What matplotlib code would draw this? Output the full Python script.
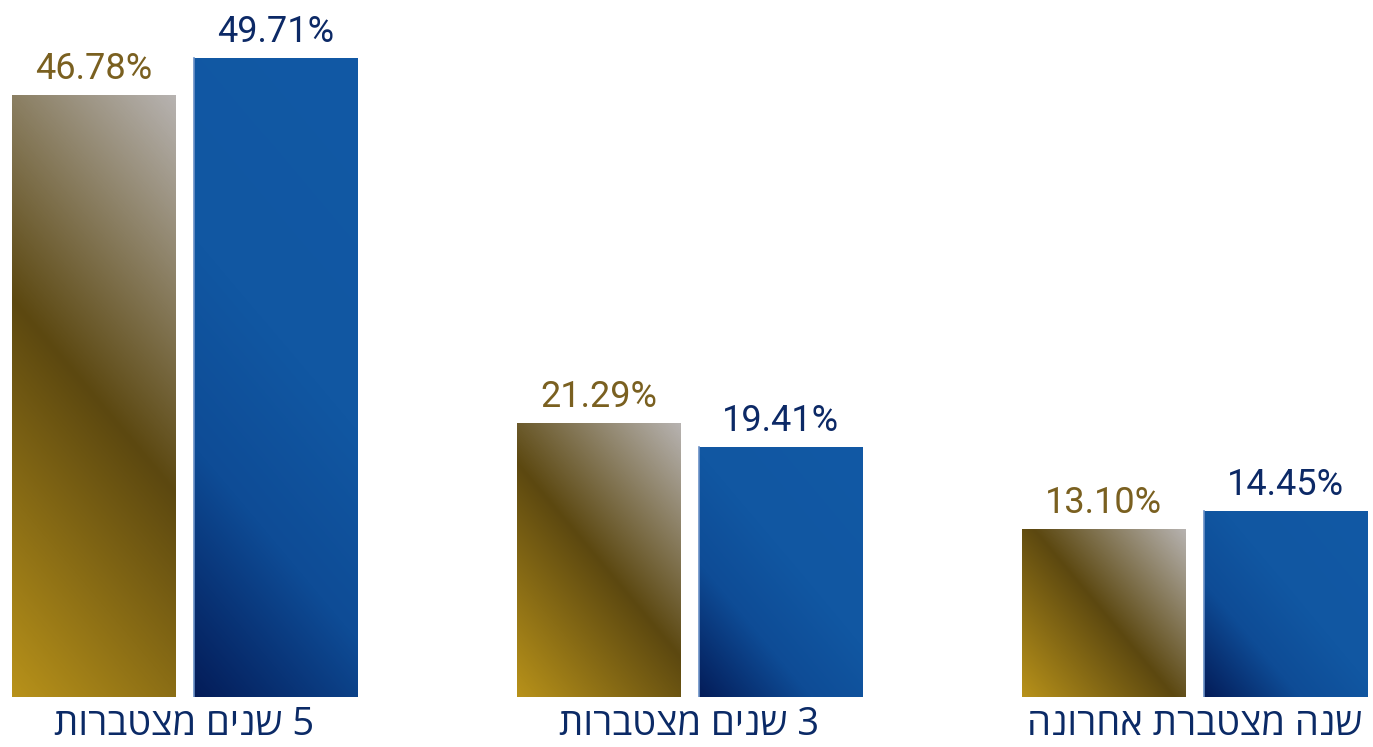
import numpy as np
import matplotlib
matplotlib.use('Agg')
import matplotlib.pyplot as plt
from matplotlib.colors import LinearSegmentedColormap

# Data
categories = ['5 שנים מצטברות', '3 שנים מצטברות', 'שנה מצטברת אחרונה']
gold_values = [46.78, 21.29, 13.10]
blue_values = [49.71, 19.41, 14.45]

gold_cmap = LinearSegmentedColormap.from_list(
    'gold', [(0, '#b8921a'), (0.5, '#5c4810'), (1, '#b7b3b1')])
blue_cmap = LinearSegmentedColormap.from_list(
    'blue', [(0, '#041c58'), (0.3, '#0e4c96'), (0.55, '#1157a2'), (1, '#1259a5')])


def gradient_fill(ax, bar, cmap, angle=50):
    # css-like linear gradient, computed in pixel space of the bar
    x0, y0 = bar.get_x(), bar.get_y()
    x1, y1 = x0 + bar.get_width(), y0 + bar.get_height()
    (px0, py0), (px1, py1) = ax.transData.transform([(x0, y0), (x1, y1)])
    w, h = max(int(px1 - px0), 2), max(int(py1 - py0), 2)
    xx, yy = np.meshgrid(np.arange(w) + 0.5, np.arange(h) + 0.5)
    a = np.radians(angle)
    L = w * abs(np.sin(a)) + h * abs(np.cos(a))
    t = ((xx - w / 2) * np.sin(a) + (yy - h / 2) * np.cos(a)) / L + 0.5
    im = ax.imshow(t, cmap=cmap, vmin=0, vmax=1, origin='lower', aspect='auto',
                   extent=(x0, x1, y0, y1), interpolation='bilinear', zorder=2)
    im.set_clip_path(bar)
    bar.set_visible(False)


fig = plt.figure(figsize=(13.73, 7.47), dpi=100)
ax = fig.add_axes([0, 50 / 747, 1, 697 / 747])
ax.set_xlim(-0.365, 2.353)
ax.set_ylim(0, 54.2)
ax.axis('off')

x = np.arange(len(categories))
width = 0.323
offset = 0.180

gold_bars = ax.bar(x - offset, gold_values, width, color='none', linewidth=0)
blue_bars = ax.bar(x + offset, blue_values, width, color='none', linewidth=0)

for bar in gold_bars:
    gradient_fill(ax, bar, gold_cmap)
for bar in blue_bars:
    gradient_fill(ax, bar, blue_cmap)
    ax.plot([bar.get_x(), bar.get_x()], [0, bar.get_height()],
            color='#6a90c6', linewidth=1.2, zorder=3)

label_font = dict(family=['Roboto', 'DejaVu Sans'], fontsize=26)
for bar, v in zip(gold_bars, gold_values):
    ax.annotate(f'{v:.2f}%', (bar.get_x() + bar.get_width() / 2, v),
                xytext=(0, 11.5), textcoords='offset points',
                ha='center', va='baseline', color='#7a6020', **label_font)
for bar, v in zip(blue_bars, blue_values):
    ax.annotate(f'{v:.2f}%', (bar.get_x() + bar.get_width() / 2, v),
                xytext=(0, 11.5), textcoords='offset points',
                ha='center', va='baseline', color='#0c2966', **label_font)

# Hebrew category labels (reversed for visual RTL order)
for xi, cat in zip(x, categories):
    ax.text(xi, -38 / 12.85, cat[::-1], ha='center', va='baseline',
            fontsize=27.5, color='#0b2a66', family=['Open Sans', 'DejaVu Sans'],
            clip_on=False)

fig.savefig('out.png', dpi=100)
